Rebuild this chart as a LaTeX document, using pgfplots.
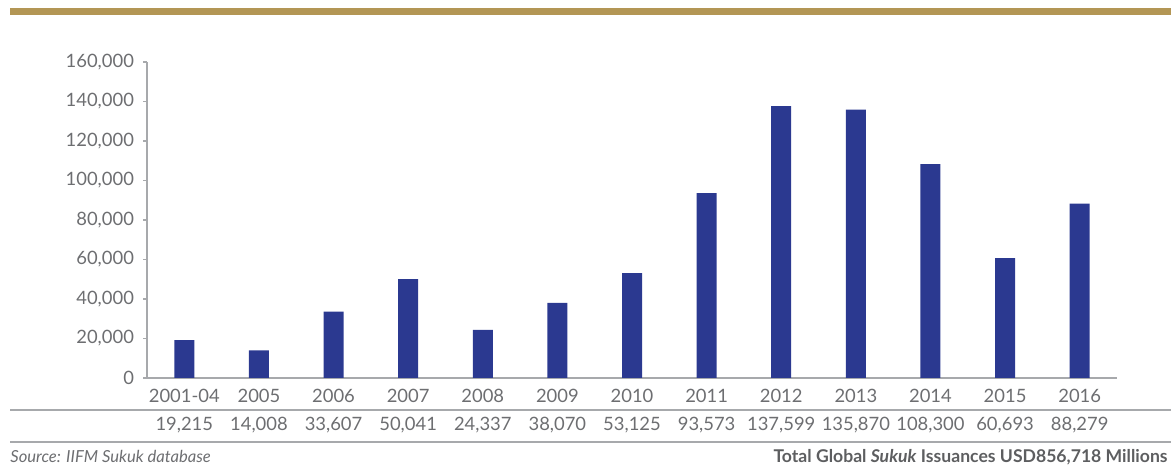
\documentclass[border=0pt]{standalone}
\usepackage{pgfplots}
\usepackage{pgfplotstable}
\pgfplotsset{compat=1.18}
\usepackage{fontspec}
\setmainfont{Lato}
\definecolor{gold}{HTML}{B39655}
\definecolor{barblue}{HTML}{2B3990}
\definecolor{txtgray}{HTML}{6D6E71}
\definecolor{linegray}{HTML}{A7A9AC}
\pgfplotstableread{
x val label
0 19215 19,215
1 14008 14,008
2 33607 33,607
3 50041 50,041
4 24337 24,337
5 38070 38,070
6 53125 53,125
7 93573 93,573
8 137599 137,599
9 135870 135,870
10 108300 108,300
11 60693 60,693
12 88279 88,279
}\datatab
\begin{document}
\begin{tikzpicture}
\path[use as bounding box] (0pt,0pt) rectangle (585.5pt,234.5pt);
\fill[gold] (5pt,230.5pt) rectangle (585.5pt,226.75pt);
\draw[linegray, line width=0.8pt] (5pt,29.5pt) -- (585.5pt,29.5pt);
\draw[linegray, line width=0.8pt] (5pt,13.5pt) -- (585.5pt,13.5pt);
\node[anchor=base west, font=\fontsize{8.3}{9}\selectfont\itshape, text=txtgray, inner sep=0pt] at (5pt,3pt) {Source: IIFM Sukuk database};
\node[anchor=base east, font=\fontsize{8.8}{10}\selectfont\bfseries, text=txtgray!85!black, inner sep=0pt] at (584pt,3pt) {Total Global \textit{Sukuk} Issuances USD856,718 Millions};
\begin{axis}[
  at={(73.5pt,45.5pt)}, anchor=south west,
  scale only axis, width=485pt, height=158pt,
  ymin=0, ymax=160000, ytick distance=20000,
  xmin=-0.5, xmax=12.5,
  xtick={0,...,12},
  xticklabels={2001-04,2005,2006,2007,2008,2009,2010,2011,2012,2013,2014,2015,2016},
  axis x line*=bottom, axis y line*=left,
  axis line style={linegray, line width=0.8pt},
  x axis line style={-}, y axis line style={-},
  tick align=outside, major tick length=2pt,
  xtick style={draw=none},
  ytick style={linegray, line width=0.8pt},
  yticklabel style={font=\fontsize{9.2}{10}\selectfont, text=txtgray, xshift=-1pt},
  xticklabel style={font=\fontsize{9.2}{10}\selectfont, text=txtgray, anchor=base, yshift=-10.5pt},
  /pgf/number format/assume math mode=true,
  scaled y ticks=false,
  yticklabel={\pgfmathprintnumber[fixed,1000 sep={,}]{\tick}},
  clip=false,
]
\addplot[ybar, bar width=10pt, fill=barblue, draw=none] table[x=x, y=val] {\datatab};
\addplot[draw=none, mark=none, nodes near coords, point meta=explicit symbolic,
  nodes near coords style={anchor=base, yshift=-26.5pt, font=\fontsize{9.2}{10}\selectfont, text=txtgray}]
  table[x=x, y expr=0, meta=label] {\datatab};
\end{axis}
\end{tikzpicture}
\end{document}
